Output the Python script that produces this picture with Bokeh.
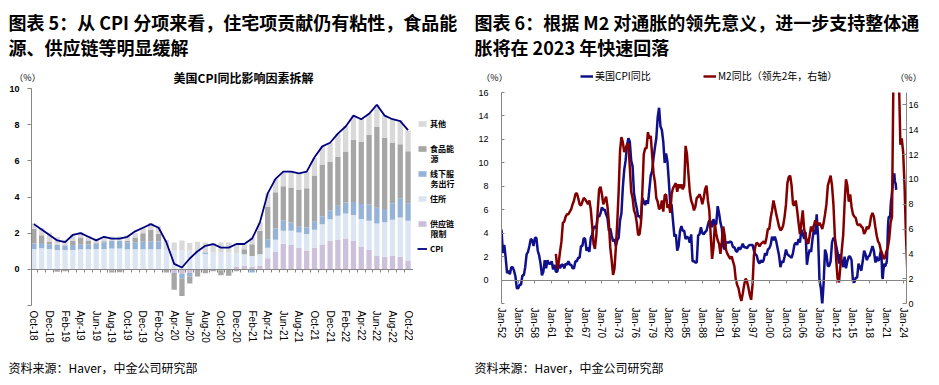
import numpy as np
from bokeh.plotting import figure
from bokeh.models import (Range1d, LinearAxis, FixedTicker, Label, Legend, LegendItem,
                          ColumnDataSource)
from bokeh.layouts import row, column
from bokeh.embed import file_html
from bokeh.resources import INLINE

# ------------------------------------------------------------------ data: chart 5
months = ["Oct-18", "Nov-18", "Dec-18", "Jan-19", "Feb-19", "Mar-19", "Apr-19", "May-19", "Jun-19",
          "Jul-19", "Aug-19", "Sep-19", "Oct-19", "Nov-19", "Dec-19", "Jan-20", "Feb-20", "Mar-20",
          "Apr-20", "May-20", "Jun-20", "Jul-20", "Aug-20", "Sep-20", "Oct-20", "Nov-20", "Dec-20",
          "Jan-21", "Feb-21", "Mar-21", "Apr-21", "May-21", "Jun-21", "Jul-21", "Aug-21", "Sep-21",
          "Oct-21", "Nov-21", "Dec-21", "Jan-22", "Feb-22", "Mar-22", "Apr-22", "May-22", "Jun-22",
          "Jul-22", "Aug-22", "Sep-22", "Oct-22"]

supply_chain = [0, 0, 0, 0, 0, 0, 0, 0, 0, 0, -0.05, -0.04,
                -0.03, 0, 0, 0, 0, 0, -0.20, -0.26, -0.19, 0, 0, 0,
                -0.05, -0.03, 0.13, 0.18, 0.13, 0.19, 0.61, 0.96, 1.41, 1.35, 1.19, 1.04,
                1.19, 1.37, 1.57, 1.65, 1.70, 1.57, 1.26, 1.07, 0.74, 0.69, 0.74, 0.69, 0.46]
shelter = [1.13, 1.17, 1.13, 1.07, 1.07, 1.07, 1.11, 1.11, 1.13, 1.13, 1.15, 1.15,
           1.11, 1.11, 1.11, 1.11, 1.11, 1.07, 1.04, 1.04, 1.04, 0.98, 0.85, 0.93,
           0.93, 0.93, 0.74, 0.65, 0.61, 0.65, 0.59, 0.67, 0.72, 0.78, 0.85, 0.91,
           1.00, 1.13, 1.20, 1.31, 1.39, 1.44, 1.52, 1.61, 1.80, 1.91, 2.00, 2.17, 2.22]
services = [0.30, 0.28, 0.26, 0.28, 0.26, 0.28, 0.28, 0.26, 0.30, 0.37, 0.41, 0.41,
            0.37, 0.39, 0.41, 0.43, 0.43, 0.00, 0.00, -0.26, -0.22, 0.05, 0.08, 0.00,
            0.00, 0.00, 0.00, 0.00, -0.18, 0.00, 0.46, 0.63, 0.59, 0.46, 0.31, 0.37,
            0.44, 0.43, 0.50, 0.56, 0.61, 0.72, 0.83, 0.91, 0.87, 0.74, 0.91, 1.04, 0.98]
food_energy = [0.81, 0.43, 0.15, -0.13, -0.10, 0.22, 0.37, 0.22, 0.02, 0.05, -0.12, -0.12,
               0.10, 0.26, 0.48, 0.65, 0.43, -0.18, -0.93, -0.96, -0.37, -0.39, -0.22, -0.10,
               -0.28, -0.33, -0.10, 0.28, 0.65, 1.30, 1.81, 2.00, 1.87, 1.93, 2.06, 2.17,
               2.56, 2.87, 2.69, 2.69, 2.81, 3.44, 3.43, 3.85, 4.46, 3.93, 3.33, 3.02, 2.87]
other = [0.31, 0.40, 0.50, 0.43, 0.30, 0.37, 0.30, 0.25, 0.26, 0.28, 0.26, 0.26,
         0.30, 0.24, 0.28, 0.37, 0.44, 0.55, 0.44, 0.56, 0.41, 0.50, 0.56, 0.52,
         0.56, 0.56, 0.57, 0.28, 0.37, 0.46, 0.74, 0.74, 0.74, 0.89, 0.91, 0.89,
         0.96, 1.00, 1.04, 1.30, 1.44, 1.33, 1.30, 1.17, 1.24, 1.26, 1.35, 1.33, 1.15]
cpi_monthly = [2.5, 2.2, 1.9, 1.6, 1.5, 1.9, 2.0, 1.8, 1.6, 1.8, 1.7, 1.7,
               1.8, 2.1, 2.3, 2.5, 2.3, 1.5, 0.3, 0.1, 0.6, 1.0, 1.3, 1.4,
               1.2, 1.2, 1.4, 1.4, 1.7, 2.6, 4.2, 5.0, 5.4, 5.4, 5.3, 5.4,
               6.2, 6.8, 7.0, 7.5, 7.9, 8.5, 8.3, 8.6, 9.1, 8.5, 8.3, 8.2, 7.7]

series_names = ["供应链限制", "住所", "线下服务出行", "食品能源", "其他"]
series_vals = [supply_chain, shelter, services, food_energy, other]
series_cols = ["#ccc0da", "#dce6f2", "#95b3d7", "#a6a6a6", "#d9d9d9"]
y1_ticks = [-2, 0, 2, 4, 6, 8, 10]

# ------------------------------------------------------------------ data: chart 6
# US CPI y/y, quarterly (Jan/Apr/Jul/Oct) from Jan-1952 to Jul-2018, then monthly (cpi_monthly)
cpi_q_start = 1952.0
cpi_quarterly = [
    4.3, 2.3, 3.0, 1.9,   0.6, 0.8, 0.5, 1.1,   1.1, 0.8, 0.3, -0.7,  -0.7, -0.4, -0.4, 0.4,
    0.4, 1.1, 2.2, 2.4,   2.9, 3.5, 3.4, 2.9,   3.6, 3.6, 2.5, 2.1,   1.4, 0.4, 0.7, 1.7,
    1.0, 1.7, 1.4, 1.4,   1.6, 0.9, 1.3, 0.7,   0.7, 1.3, 1.0, 1.3,   1.3, 1.0, 1.4, 1.3,
    1.6, 1.3, 1.3, 1.0,   1.0, 1.6, 1.6, 1.9,   1.9, 2.9, 2.9, 3.6,   3.5, 2.5, 2.8, 2.4,
    3.6, 3.9, 4.4, 4.6,   4.4, 5.5, 5.4, 5.7,   6.2, 6.0, 6.0, 5.6,   5.3, 4.2, 4.4, 3.8,
    3.3, 3.5, 2.9, 3.4,   3.6, 5.1, 5.7, 7.9,   9.4, 10.2, 11.5, 12.1, 11.8, 10.2, 9.7, 7.4,
    6.7, 6.1, 5.4, 5.5,   5.2, 7.0, 6.7, 6.4,   6.8, 6.5, 7.7, 8.9,   9.3, 10.4, 11.3, 12.1,
    13.9, 14.7, 13.1, 12.8, 11.8, 10.0, 10.8, 10.1, 8.4, 6.5, 6.4, 5.0, 3.7, 3.9, 2.5, 2.9,
    4.2, 4.6, 4.2, 4.2,   3.5, 3.7, 3.6, 3.2,   3.9, 1.6, 1.6, 1.5,   1.5, 3.8, 3.9, 4.5,
    4.0, 3.9, 4.1, 4.2,   4.7, 5.1, 5.0, 4.5,   5.2, 4.7, 4.8, 6.3,   5.7, 4.9, 4.4, 2.9,
    2.6, 3.2, 3.2, 3.2,   3.3, 3.2, 2.8, 2.8,   2.5, 2.4, 2.8, 2.6,   2.8, 3.1, 2.8, 2.8,
    2.7, 2.9, 3.0, 3.0,   3.0, 2.5, 2.2, 2.1,   1.6, 1.4, 1.7, 1.5,   1.7, 2.3, 2.1, 2.6,
    2.7, 3.0, 3.7, 3.4,   3.7, 3.3, 2.7, 2.1,   1.1, 1.6, 1.5, 2.0,   2.6, 2.2, 2.1, 2.0,
    1.9, 2.3, 3.0, 3.2,   3.0, 3.5, 3.2, 4.3,   4.0, 3.5, 4.1, 1.3,   2.1, 2.6, 2.4, 3.5,
    4.3, 3.9, 5.6, 3.7,   0.0, -0.7, -2.1, -0.2, 2.6, 2.2, 1.2, 1.2,  1.6, 3.2, 3.6, 3.5,
    2.9, 2.3, 1.4, 2.2,   1.6, 1.1, 2.0, 1.0,   1.6, 2.0, 2.0, 1.7,   -0.1, -0.2, 0.2, 0.2,
    1.4, 1.1, 0.8, 1.6,   2.5, 2.2, 1.7, 2.0,   2.1, 2.5, 2.9]
cpi_m_start = 2018.75

# US M2 y/y, quarterly from Oct-1959 (actual date), plotted with a 2-year lead
m2_start = 1959.75
m2_lead_years = 2
m2_quarterly = [
    4.0,
    2.8, 3.3, 4.2, 5.0,   6.5, 6.6, 7.0, 7.2,   7.2, 7.4, 7.6, 8.0,   8.3, 8.8, 8.9, 8.5,
    8.0, 7.9, 8.2, 8.5,   8.4, 8.2, 8.0, 8.3,   7.6, 6.3, 4.8, 4.4,   5.5, 7.5, 9.2, 9.4,
    8.8, 8.0, 8.3, 8.6,   7.8, 6.5, 4.5, 3.5,   2.3, 2.8, 4.5, 6.5,   9.0, 12.3, 13.4, 13.0,
    12.2, 12.5, 12.8, 12.9, 11.0, 9.0, 8.5, 7.5, 7.2, 6.5, 5.5, 5.6,  6.5, 9.0, 12.0, 12.5,
    12.5, 13.8, 13.3, 13.5, 12.0, 10.5, 9.8, 8.5, 8.2, 7.6, 7.7, 8.3, 7.4, 8.7, 8.8, 7.7,
    8.0, 7.3, 8.8, 9.3,   9.5, 9.7, 9.0, 9.6,   9.3, 9.6, 9.2, 9.5,   12.7, 12.0, 10.5, 9.0,
    8.3, 8.0, 7.5, 7.8,   8.5, 8.6, 8.8, 8.5,   8.0, 8.5, 9.2, 9.5,   8.3, 7.5, 5.5, 3.6,
    4.5, 6.4, 5.6, 5.1,   4.8, 4.0, 5.0, 6.2,   5.5, 4.3, 4.0, 3.8,   3.6, 3.8, 3.4, 3.0,
    1.9, 1.5, 1.2, 0.6,   0.2, 0.8, 1.5, 2.0,   1.8, 1.3, 0.7, 0.3,   1.5, 3.9, 4.6, 4.9,
    4.8, 4.6, 4.8, 4.9,   5.0, 4.8, 5.3, 6.0,   6.0, 6.9, 7.5, 8.3,   7.8, 7.2, 6.7, 6.2,
    5.9, 6.0, 6.3, 7.0,   8.0, 9.7, 10.2, 10.3, 9.5, 8.0, 7.9, 8.3,   7.5, 6.5, 5.6, 6.5,
    7.5, 6.0, 5.5, 5.0,   4.8, 5.5, 6.2, 5.8,   6.3, 6.7, 6.5, 6.3,   6.5, 6.3, 6.0, 6.5,
    7.2, 8.0, 9.5, 9.9,   10.3, 9.5, 8.0, 5.5,  3.5, 2.0, 1.7, 3.0,   4.3, 5.5, 8.0, 10.0,
    9.5, 8.2, 8.8, 7.8,   7.2, 7.0, 6.9, 6.4,   6.3, 6.4, 6.2, 6.1,   5.6, 5.8, 6.2, 6.0,
    6.3, 7.0, 7.3, 7.0,   6.2, 5.5, 5.0, 4.8,   4.3, 4.0, 3.6, 3.7,   4.2, 4.5, 5.2, 6.5,
    7.0, 18.0, 23.0, 24.0, 26.0, 18.0, 12.8, 13.3, 12.2, 9.5, 5.5, 2.6]

year_ticks = list(range(1952, 2025, 3))
year_labels = ["Jan-%02d" % (y % 100) for y in year_ticks]
y2_left_ticks = [-2, 0, 2, 4, 6, 8, 10, 12, 14, 16]
y2_right_ticks = [0, 2, 4, 6, 8, 10, 12, 14, 16]

# ------------------------------------------------------------------ style helpers
CJK = "Noto Sans CJK SC"
LAT = "Liberation Sans"
AXIS_GREY = "#868686"
CPI_NAVY = "#10108a"
M2_RED = "#840000"
LINE_W2 = 2.5


def lab(p, x, y, text, size, bold=False, align="left", color="#000000", font=CJK):
    p.add_layout(Label(x=x, y=y, x_units="screen", y_units="screen", text=text,
                       text_font=font, text_font_size=size,
                       text_font_style="bold" if bold else "normal",
                       text_align=align, text_baseline="middle", text_color=color))


def plain_fig(width, height, x_range=None, y_range=None, borders=(0, 0, 0, 0)):
    p = figure(width=width, height=height,
               x_range=x_range if x_range is not None else Range1d(0, 1),
               y_range=y_range if y_range is not None else Range1d(0, 1),
               output_backend="svg", toolbar_location=None,
               x_axis_location=None, y_axis_location=None)
    p.min_border_left, p.min_border_right, p.min_border_top, p.min_border_bottom = borders
    p.outline_line_color = None
    p.background_fill_color = "white"
    p.border_fill_color = "white"
    p.grid.visible = False
    return p


def y_axis(ticks, overrides, tick_in, tick_out, standoff, bold=False, range_name="default",
           color="#000000", line=True, fixed=None):
    ax = LinearAxis(y_range_name=range_name, ticker=FixedTicker(ticks=ticks),
                    major_label_overrides=overrides,
                    axis_line_color=AXIS_GREY if line else None,
                    major_tick_line_color=AXIS_GREY if line else None,
                    major_tick_in=tick_in, major_tick_out=tick_out,
                    minor_tick_line_color=None, major_label_standoff=standoff,
                    major_label_text_font=LAT, major_label_text_font_size="9px",
                    major_label_text_font_style="bold" if bold else "normal",
                    major_label_text_color=color)
    if fixed is not None:
        ax.fixed_location = fixed
    return ax


def x_label_axis(ticks, labels, standoff):
    return LinearAxis(ticker=FixedTicker(ticks=ticks),
                      major_label_overrides=dict(zip(ticks, labels)),
                      major_label_orientation="vertical", axis_line_color=None,
                      major_tick_line_color=None, minor_tick_line_color=None,
                      major_tick_in=0, major_tick_out=0, major_label_standoff=standoff,
                      major_label_text_font=LAT, major_label_text_font_size="10px",
                      major_label_text_color="#000000")


def zero_axis(ticks):
    return LinearAxis(fixed_location=0, ticker=FixedTicker(ticks=ticks),
                      major_label_overrides={t: "" for t in ticks},
                      axis_line_color=AXIS_GREY, major_tick_line_color=AXIS_GREY,
                      major_tick_in=0, major_tick_out=3, minor_tick_line_color=None,
                      major_label_standoff=0, major_label_text_font_size="1px")


# ================================================================== chart 5 (left column)
# page layout: title strip 0..85, chart 85..357 (frame 88..305), source strip 357..385
n = len(months)
xs = list(range(n))
X1 = (-0.3, 48.7)
C1_W, C1_H = 413, 272
C1_BORDERS = (31, 0, 3, 52)
C1_FRAME_BOTTOM = 305
c1 = plain_fig(C1_W, C1_H, Range1d(*X1), Range1d(-2, 10), C1_BORDERS)

pos_base = np.zeros(n)
neg_base = np.zeros(n)
bar_sources = {}
for name, vals, col in zip(series_names, series_vals, series_cols):
    v = np.array(vals, dtype=float)
    bottom = np.where(v >= 0, pos_base, neg_base + v)
    top = np.where(v >= 0, pos_base + v, neg_base)
    pos_base = np.where(v >= 0, pos_base + v, pos_base)
    neg_base = np.where(v < 0, neg_base + v, neg_base)
    src = ColumnDataSource(dict(x=xs, bottom=bottom, top=top))
    bar_sources[name] = src
    c1.vbar(x="x", bottom="bottom", top="top", width=0.68, source=src,
            fill_color=col, line_color=None)
c1.line(xs, cpi_monthly, line_color="#000080", line_width=1.8)

px_per_x1 = (C1_W - C1_BORDERS[0] - C1_BORDERS[1]) / (X1[1] - X1[0])
c1.add_layout(y_axis(y1_ticks, {-2: ""}, 0, 4, 8, bold=True), "left")
# red "-2" label, drawn by an axis holding only that tick
c1.add_layout(y_axis([-2], {}, 0, 0, 0, bold=True, color="#ff0000", line=False,
                     fixed=X1[0] - 12 / px_per_x1), "left")
c1.add_layout(x_label_axis(xs[::2], months[::2], 5), "below")
c1.add_layout(zero_axis([i + 0.5 for i in range(n - 1)]), "below")

# legend strip to the right of chart 5 (its frame is aligned with the chart frame: 88..305)
l1 = plain_fig(57, C1_H)
leg_r = {}
for name, col in zip(series_names, series_cols):
    leg_r[name] = l1.vbar(x="x", bottom="bottom", top="top", width=0.68,
                          source=bar_sources[name], fill_color=col, line_color=None,
                          visible=False)
leg_r["CPI"] = l1.line(xs, cpi_monthly, line_color="#000080", line_width=1.8, visible=False)
leg1 = Legend(items=[LegendItem(label="其他", renderers=[leg_r["其他"]]),
                     LegendItem(label="食品能", renderers=[leg_r["食品能源"]]),
                     LegendItem(label="线下服", renderers=[leg_r["线下服务出行"]]),
                     LegendItem(label="住所", renderers=[leg_r["住所"]]),
                     LegendItem(label="供应链", renderers=[leg_r["供应链限制"]]),
                     LegendItem(label="CPI", renderers=[leg_r["CPI"]])],
              location=(4, C1_FRAME_BOTTOM - 254), glyph_width=10, glyph_height=7,
              label_standoff=3, label_height=12, label_width=10, spacing=13, padding=0,
              margin=0, border_line_color=None, background_fill_alpha=0,
              label_text_font=CJK, label_text_font_size="8px", label_text_font_style="bold",
              label_text_color="#000000")
l1.add_layout(leg1)
lab(l1, 17, C1_FRAME_BOTTOM - 158, "源", "8px", bold=True)
lab(l1, 17, C1_FRAME_BOTTOM - 183, "务出行", "8px", bold=True)
lab(l1, 17, C1_FRAME_BOTTOM - 233, "限制", "8px", bold=True)

t1 = plain_fig(470, 85)
lab(t1, 8, 64, "图表 5：从 CPI 分项来看，住宅项贡献仍有粘性，食品能", "18px", bold=True)
lab(t1, 8, 39, "源、供应链等明显缓解", "18px", bold=True)
lab(t1, 27, 8, "（%）", "9px", align="center")
lab(t1, 243, 8, "美国CPI同比影响因素拆解", "12px", bold=True, align="center")

s1 = plain_fig(470, 28)
lab(s1, 8, 18, "资料来源：Haver，中金公司研究部", "12px")

left_col = column(t1, row(c1, l1), s1)

# ================================================================== chart 6 (right column)
# page layout: title strip 0..86, chart 86..357 (frame 92..303), source strip 357..385
X2 = (1952.0, 2024.6)
C2_W, C2_H = 469, 271
C2_BORDERS = (31, 33, 6, 54)
c2 = plain_fig(C2_W, C2_H, Range1d(*X2), Range1d(-2, 16), C2_BORDERS)
c2.extra_y_ranges = {"m2": Range1d(0, 17)}

x_cpi = list(cpi_q_start + 0.25 * np.arange(len(cpi_quarterly))) + \
    list(cpi_m_start + np.arange(len(cpi_monthly)) / 12.0)
y_cpi = list(cpi_quarterly) + list(cpi_monthly)
x_m2 = m2_start + m2_lead_years + 0.25 * np.arange(len(m2_quarterly))

c2.line(x_cpi, y_cpi, line_color=CPI_NAVY, line_width=LINE_W2)
c2.line(x_m2, m2_quarterly, line_color=M2_RED, line_width=LINE_W2, y_range_name="m2")

px_per_x2 = (C2_W - C2_BORDERS[0] - C2_BORDERS[1]) / (X2[1] - X2[0])
c2.add_layout(y_axis(y2_left_ticks, {-2: ""}, 3, 0, 13), "left")
c2.add_layout(y_axis([-2], {}, 0, 0, 0, color="#ff0000", line=False,
                     fixed=X2[0] - 13 / px_per_x2), "left")
c2.add_layout(y_axis(y2_right_ticks, {}, 4, 0, 2, range_name="m2"), "right")
c2.add_layout(x_label_axis(year_ticks, year_labels, 4), "below")
c2.add_layout(zero_axis(year_ticks), "below")

t2 = plain_fig(469, 86)
lab(t2, 4, 65, "图表 6：根据 M2 对通胀的领先意义，进一步支持整体通", "18px", bold=True)
lab(t2, 4, 40, "胀将在 2023 年快速回落", "18px", bold=True)
lab(t2, 24, 9, "（%）", "9px", align="center")
lab(t2, 438, 9, "（%）", "9px", align="center")
r_leg_cpi = t2.line(x_cpi, y_cpi, line_color=CPI_NAVY, line_width=LINE_W2, visible=False)
r_leg_m2 = t2.line(x_m2, m2_quarterly, line_color=M2_RED, line_width=LINE_W2, visible=False)
for item, loc in [(LegendItem(label="美国CPI同比", renderers=[r_leg_cpi]), (110, 3)),
                  (LegendItem(label="M2同比（领先2年，右轴）", renderers=[r_leg_m2]), (233, 3))]:
    t2.add_layout(Legend(items=[item], location=loc, glyph_width=13, glyph_height=8,
                         label_standoff=2, label_height=12, padding=0, margin=0,
                         border_line_color=None, background_fill_alpha=0,
                         label_text_font=CJK, label_text_font_size="10px",
                         label_text_color="#000000"))

s2 = plain_fig(469, 28)
lab(s2, 4, 18, "资料来源：Haver，中金公司研究部", "12px")

right_col = column(t2, row(c2), s2)

layout = row(left_col, right_col)
open("out.html", "w").write(file_html(layout, INLINE))
